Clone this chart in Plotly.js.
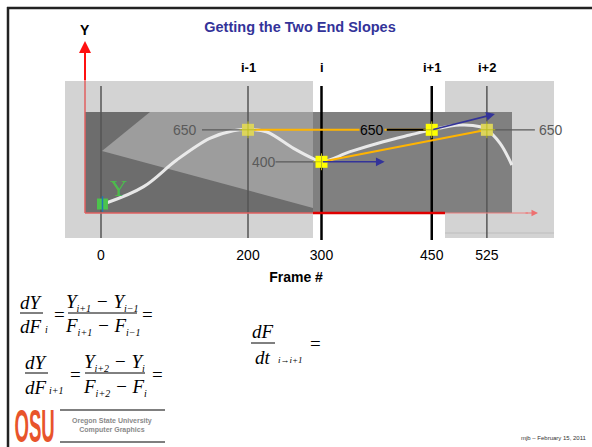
<!DOCTYPE html>
<html><head><meta charset="utf-8">
<script src="https://cdn.plot.ly/plotly-3.0.1.min.js"></script>
<style>html,body{margin:0;padding:0;background:#fff}#chart{width:592px;height:447px}</style>
</head><body><div id="chart"></div>
<script>
// ---------------- data ----------------
const tickFrames = [0, 200, 300, 450, 525];
const tickLabels = ['0', '200', '300', '450', '525'];
const keyNames = ['i-1', 'i', 'i+1', 'i+2'];
const keyFrames = [200, 300, 450, 525];
const keyValues = [650, 400, 650, 650];
const keyLabels = ['650', '400', '650', '650'];
const startFrame = [2];
const startValue = [70];
const curveFrames = [3, 8, 58, 103, 148, 180, 200, 225, 262, 288, 300, 339, 384, 420, 450, 488, 516, 525, 543, 559];
const curveValues = [72, 80, 206, 414, 583, 643, 652, 635, 505, 427, 400, 479, 557, 609, 650, 687, 674, 650, 544, 375];
const slopeTipFrames = [386, 536];
const slopeTipValues = [400, 773];

// ---------------- geometry / styles ----------------
const W = 592, H = 447;
const PX_X0 = 101, PX_PER_F = 0.735, PX_Y0 = 213, PX_PER_V = 0.128, PLOT_BOTTOM = 245;
const fx = px => (px - PX_X0) / PX_PER_F;
const dfx = dpx => dpx / PX_PER_F;
const pxp = px => px / W;
const pyp = py => (H - py) / H;

const SANS = 'Liberation Sans, Arial, Helvetica, sans-serif';
const SERIF = 'Liberation Serif, Times New Roman, serif';

const shapes = [];
const annotations = [];
function rectP(x0, y0, x1, y1, fill) {
  shapes.push({type: 'rect', xref: 'paper', yref: 'paper', x0: pxp(x0), x1: pxp(x1), y0: pyp(y1), y1: pyp(y0),
    fillcolor: fill, line: {width: 0}, layer: 'below'});
}
function lineP(x0, y0, x1, y1, color, width, layer) {
  shapes.push({type: 'line', xref: 'paper', yref: 'paper', x0: pxp(x0), x1: pxp(x1), y0: pyp(y0), y1: pyp(y1),
    line: {color: color, width: width}, layer: layer || 'below'});
}
function textP(px, py, text, size, opts) {
  opts = opts || {};
  annotations.push(Object.assign({xref: 'paper', yref: 'paper', x: pxp(px), y: pyp(py), text: text,
    showarrow: false, xanchor: 'center', yanchor: 'middle',
    font: {family: opts.family || SANS, size: size, color: opts.color || '#000', style: opts.style || 'normal'}},
    opts.extra || {}));
}

// slide border
lineP(7, 8, W, 8, '#222', 2.5, 'above');
lineP(8, 7, 8, H, '#222', 2.5, 'above');

// screenshot backgrounds
rectP(65, 81, 313, 238, '#d3d3d3');
rectP(445, 81, 554, 238, '#d3d3d3');
rectP(85, 112, 313, 213, '#6d6d6d');
shapes.push({type: 'path', xref: 'paper', yref: 'paper', layer: 'below', fillcolor: '#9d9d9d', line: {width: 0},
  path: `M${pxp(150)},${pyp(112)} L${pxp(313)},${pyp(112)} L${pxp(313)},${pyp(208)} L${pxp(102)},${pyp(151)} Z`});
rectP(313, 112, 512, 213, '#808080');
lineP(445, 233, 554, 233, '#bdbdbd', 1);

// vertical frame lines
const vFrames = [0].concat(keyFrames);
vFrames.forEach((f, k) => {
  const strong = (f === keyFrames[1] || f === keyFrames[2]);
  shapes.push({type: 'line', xref: 'x', yref: 'paper', x0: f, x1: f, y0: pyp(strong ? 240 : 238), y1: pyp(86),
    line: {color: strong ? '#000' : '#555', width: strong ? 2.5 : 1.5}, layer: 'below'});
});

// red axes
lineP(85, 81, 85, 213, '#e06060', 1.5);
lineP(85, 213, 313, 213, '#e06060', 1.5);
lineP(313, 213, 445, 213, '#e00000', 2.5);
lineP(445, 213, 528, 213, '#ee8080', 1);
annotations.push({xref: 'paper', yref: 'paper', x: pxp(85), y: pyp(41), ax: 0, ay: 41, text: '', showarrow: true,
  arrowhead: 2, arrowsize: 1.2, arrowwidth: 2, arrowcolor: '#ff1010', standoff: 0});
annotations.push({xref: 'paper', yref: 'paper', x: pxp(538), y: pyp(213), ax: -14, ay: 0, text: '', showarrow: true,
  arrowhead: 2, arrowsize: 1.3, arrowwidth: 1, arrowcolor: '#ee7070', standoff: 0});
textP(85, 30, '<b>Y</b>', 14);
textP(118, 188, 'Y', 24, {family: SERIF, color: '#4cbb4c'});

// key labels above
keyNames.forEach((n, k) => {
  annotations.push({xref: 'x', yref: 'paper', x: keyFrames[k], y: pyp(68), text: '<b>' + n + '</b>', showarrow: false,
    xanchor: 'center', yanchor: 'middle', font: {family: SANS, size: 13, color: '#000'}});
});

// value labels + leader lines
const labelShift = [-63, -58, -60, 64];
const leaderPx = [[-46, 0], [-46, -3], [-45, 0], [3, 48]];
const labelColors = ['#5a5a5a', '#5a5a5a', '#000', '#5a5a5a'];
const labelBg = ['rgba(0,0,0,0)', 'rgba(0,0,0,0)', '#808080', 'rgba(0,0,0,0)'];
keyLabels.forEach((t, k) => {
  annotations.push({xref: 'x', yref: 'y', x: keyFrames[k], y: keyValues[k], xshift: labelShift[k], text: t,
    showarrow: false, xanchor: 'center', yanchor: 'middle', bgcolor: labelBg[k], borderpad: 0,
    font: {family: SANS, size: 14, color: labelColors[k]}});
});

// slope arrows
slopeTipFrames.forEach((f, k) => {
  annotations.push({xref: 'x', yref: 'y', axref: 'x', ayref: 'y', x: f, y: slopeTipValues[k],
    ax: keyFrames[k + 1], ay: keyValues[k + 1], text: '', showarrow: true, arrowhead: 2, arrowsize: 1.1,
    arrowwidth: 1.6, arrowcolor: '#333399', standoff: 0});
});

// ---------------- traces ----------------
const traces = [];
traces.push({type: 'scatter', mode: 'lines', x: curveFrames, y: curveValues, hoverinfo: 'skip',
  line: {shape: 'spline', smoothing: 1, color: 'rgba(238,238,238,0.95)', width: 3}});
[[0, 2], [1, 3]].forEach(p => {
  traces.push({type: 'scatter', mode: 'lines', hoverinfo: 'skip',
    x: [keyFrames[p[0]], keyFrames[p[1]]], y: [keyValues[p[0]], keyValues[p[1]]],
    line: {color: '#ffb400', width: 2}});
});
keyFrames.forEach((f, k) => {
  traces.push({type: 'scatter', mode: 'lines', hoverinfo: 'skip',
    x: [f + dfx(leaderPx[k][0]), f + dfx(leaderPx[k][1])], y: [keyValues[k], keyValues[k]],
    line: {color: labelColors[k], width: k === 2 ? 2 : 1.2}});
});
const markerFill = ['#dcd45c', '#ffff00', '#ffff00', '#dcd45c'];
traces.push({type: 'scatter', mode: 'markers', x: keyFrames, y: keyValues, hoverinfo: 'skip',
  marker: {symbol: 'square', size: 12, color: markerFill, line: {width: 0}}});
traces.push({type: 'scatter', mode: 'markers', x: keyFrames, y: keyValues, hoverinfo: 'skip',
  marker: {symbol: 'cross-thin-open', size: 12, line: {color: 'rgba(150,140,40,0.8)', width: 1}}});
traces.push({type: 'scatter', mode: 'markers', x: startFrame, y: startValue, hoverinfo: 'skip',
  marker: {symbol: 'square', size: 11, color: '#4cc44c', line: {width: 0}}});
traces.push({type: 'scatter', mode: 'markers', x: startFrame, y: startValue, hoverinfo: 'skip',
  marker: {symbol: 'line-ns-open', size: 11, line: {color: '#8a8a8a', width: 1.5}}});

// ---------------- equations & footer ----------------
const sub = s => `<sub><span style="font-size:10px">${s}</span></sub>`;
const EQ = 19;
const it = {family: SERIF, style: 'italic'};
const up = {family: SERIF};
// eq 1
textP(31, 302, 'dY', EQ, it);
lineP(20, 313, 43, 313, '#000', 1);
textP(31, 326, 'dF', EQ, it);
textP(46, 329, 'i', 10, it);
textP(59, 314, '=', EQ, up);
textP(102, 302, 'Y' + sub('i+1') + ' − Y' + sub('i−1'), EQ, it);
lineP(68, 313, 137, 313, '#000', 1);
textP(103, 326, 'F' + sub('i+1') + ' − F' + sub('i−1'), EQ, it);
textP(147, 314, '=', EQ, up);
// eq 2
textP(36, 362, 'dY', EQ, it);
lineP(25, 373, 48, 373, '#000', 1);
textP(36, 387, 'dF', EQ, it);
textP(56, 390, 'i+1', 10, it);
textP(75, 374, '=', EQ, up);
textP(115, 362, 'Y' + sub('i+2') + ' − Y' + sub('i'), EQ, it);
lineP(85, 373, 145, 373, '#000', 1);
textP(115, 387, 'F' + sub('i+2') + ' − F' + sub('i'), EQ, it);
textP(157, 374, '=', EQ, up);
// eq 3
textP(263, 331, 'dF', EQ, it);
lineP(251, 343, 275, 343, '#000', 1);
textP(263, 357, 'dt', EQ, it);
textP(290, 360, 'i→i+1', 9, it);
textP(315, 343, '=', EQ, up);

// logo
textP(34, 426, '<b>OSU</b>', 31, {color: '#e8542b'});
lineP(60, 410, 165, 410, '#000', 1.2);
lineP(60, 442, 165, 442, '#000', 1.2);
textP(112, 425, '<b>Oregon State University<br>Computer Graphics</b>', 7, {color: '#8a8a8a'});
// footer
annotations.push({xref: 'paper', yref: 'paper', x: pxp(589), y: pyp(438), text: 'mjb – February 15, 2011',
  showarrow: false, xanchor: 'right', yanchor: 'middle', font: {family: SANS, size: 6, color: '#333'}});

const layout = {
  width: W, height: H, margin: {l: 0, r: 0, t: 0, b: 0},
  paper_bgcolor: '#ffffff', plot_bgcolor: 'rgba(0,0,0,0)', showlegend: false,
  font: {family: SANS, color: '#000'},
  title: {text: '<b>Getting the Two End Slopes</b>', x: pxp(300), y: pyp(27), xanchor: 'center', yanchor: 'middle',
    font: {family: SANS, size: 14.5, color: '#333399'}},
  xaxis: {range: [fx(0), fx(W)], domain: [0, 1], tickmode: 'array', tickvals: tickFrames, ticktext: tickLabels,
    ticks: '', showgrid: false, zeroline: false, showline: false, tickfont: {family: SANS, size: 14, color: '#000'},
    title: {text: '<b>Frame #</b>', font: {family: SANS, size: 14, color: '#000'}, standoff: 10}, fixedrange: true},
  yaxis: {range: [(PX_Y0 - PLOT_BOTTOM) / PX_PER_V, PX_Y0 / PX_PER_V], domain: [pyp(PLOT_BOTTOM), 1],
    visible: false, fixedrange: true},
  shapes: shapes, annotations: annotations
};

Plotly.newPlot('chart', traces, layout, {displayModeBar: false, staticPlot: true}).then(gd => {
  gd.querySelectorAll('.annotation-text').forEach(t => {
    if (t.textContent === 'OSU') {
      t.style.transformBox = 'fill-box';
      t.style.transformOrigin = 'center';
      t.style.transform = 'scale(0.6,1.5)';
    }
  });
});
</script>
</body></html>
